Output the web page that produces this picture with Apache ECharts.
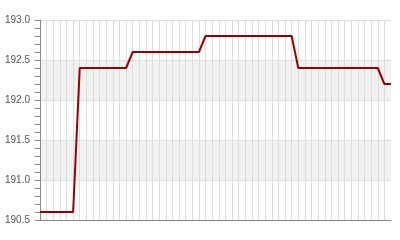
<!DOCTYPE html>
<html>
<head>
<meta charset="utf-8">
<script src="https://cdn.jsdelivr.net/npm/echarts@6/dist/echarts.min.js"></script>
<style>html,body{margin:0;padding:0;background:#fff}#c{width:400px;height:240px}</style>
</head>
<body>
<div id="c"></div>
<script>
var categories = ["1","2","3","4","5","6","7","8","9","10","11","12","13","14","15","16","17","18","19","20","21","22","23","24","25","26","27","28","29","30","31","32","33","34","35","36","37","38","39","40","41","42","43","44","45","46","47","48","49","50","51","52","53","54"];
var values = [190.6,190.6,190.6,190.6,190.6,190.6,
  192.4,192.4,192.4,192.4,192.4,192.4,192.4,192.4,
  192.6,192.6,192.6,192.6,192.6,192.6,192.6,192.6,192.6,192.6,192.6,
  192.8,192.8,192.8,192.8,192.8,192.8,192.8,192.8,192.8,192.8,192.8,192.8,192.8,192.8,
  192.4,192.4,192.4,192.4,192.4,192.4,192.4,192.4,192.4,192.4,192.4,192.4,192.4,
  192.2,192.2];
var yMin = 190.5, yMax = 193.0, yStep = 0.5;

var chart = echarts.init(document.getElementById('c'), null, {renderer:'canvas'});
chart.setOption({
  animation: false,
  grid: {left: 40, right: 9, top: 20, bottom: 20, containLabel: false},
  xAxis: {
    type: 'category',
    data: categories,
    boundaryGap: false,
    axisLine: {show: true, lineStyle: {color: '#888', width: 1}},
    axisTick: {show: false, interval: 0},
    axisLabel: {show: false, interval: 0},
    splitLine: {show: true, interval: 0, showMinLine: false, showMaxLine: false, lineStyle: {color: '#dddddd', width: 1}}
  },
  yAxis: {
    type: 'value',
    min: yMin, max: yMax, interval: yStep,
    axisLine: {show: true, lineStyle: {color: '#888', width: 1}},
    axisTick: {show: true, length: 5, lineStyle: {color: '#888'}},
    minorTick: {show: true, splitNumber: 5, length: 5, lineStyle: {color: '#888'}},
    axisLabel: {color: '#555', fontSize: 10, fontFamily: 'Liberation Sans, Arial, sans-serif', margin: 10,
      formatter: function(v){ return v.toFixed(1); }},
    splitLine: {show: true, lineStyle: {color: '#dddddd', width: 1}},
    splitArea: {show: true, areaStyle: {color: ['rgba(255,255,255,0)', '#f2f2f2']}}
  },
  series: [{
    type: 'line',
    data: values,
    symbol: 'none',
    lineStyle: {color: '#990000', width: 2},
    itemStyle: {color: '#990000'}
  }]
});
</script>
</body>
</html>
